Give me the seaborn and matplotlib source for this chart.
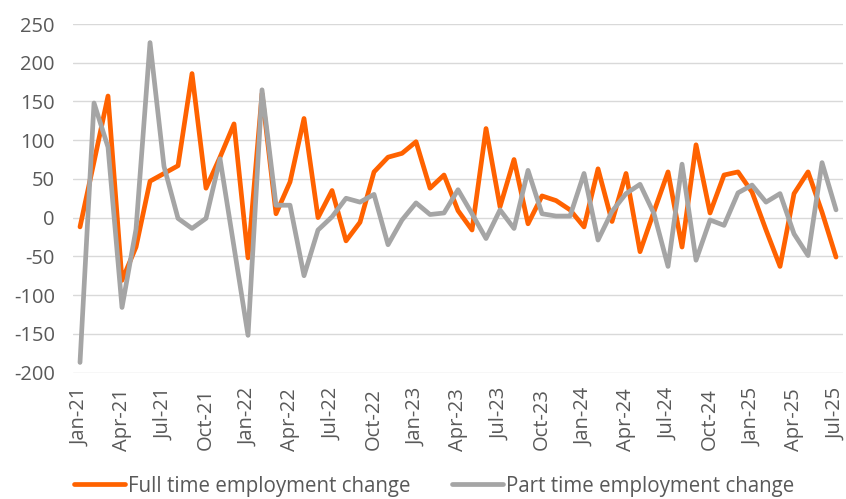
import matplotlib
matplotlib.use("Agg")
import matplotlib.pyplot as plt
import seaborn as sns
import pandas as pd
import numpy as np

months = ["Jan", "Feb", "Mar", "Apr", "May", "Jun", "Jul", "Aug", "Sep", "Oct", "Nov", "Dec"]
categories = [f"{m}-{y}" for y in range(21, 26) for m in months][:55]

full_time = [-12, 72, 157, -81, -38, 47, 57, 67, 186, 38, 78, 121,
             -52, 160, 5, 46, 128, 0, 35, -30, -6, 59, 78, 83,
             98, 38, 55, 9, -16, 115, 14, 75, -8, 28, 22, 10,
             -12, 63, -5, 57, -44, 8, 59, -38, 94, 6, 55, 59,
             33, -16, -63, 31, 59, 7, -51]
part_time = [-187, 148, 91, -116, -15, 226, 66, -1, -14, -1, 76, -38,
             -152, 165, 16, 16, -75, -16, 1, 25, 20, 30, -35, -3,
             19, 4, 6, 36, 5, -27, 10, -14, 61, 5, 2, 2,
             57, -29, 8, 31, 43, 5, -63, 69, -55, -3, -10, 32,
             42, 20, 31, -21, -49, 71, 10]

series_names = ["Full time employment change", "Part time employment change"]
tick_labels = categories[::3]
y_ticks = [-200, -150, -100, -50, 0, 50, 100, 150, 200, 250]

df = pd.DataFrame({
    "idx": list(range(len(categories))) * 2,
    "value": full_time + part_time,
    "series": [series_names[0]] * len(full_time) + [series_names[1]] * len(part_time),
})

sns.set_theme(style="white")
plt.rcParams["font.family"] = ["Open Sans", "DejaVu Sans"]

fig = plt.figure(figsize=(8.46, 4.99), dpi=100)
ax = fig.add_axes([0.0863, 0.2535, 0.9102, 0.6984])

palette = {series_names[0]: "#FF6200", series_names[1]: "#A5A5A5"}
sns.lineplot(data=df, x="idx", y="value", hue="series", palette=palette,
             linewidth=3.4, ax=ax, legend=True, sort=False)

ax.set_xlim(-0.5, len(categories) - 0.5)
ax.set_ylim(-200, 250)
ax.set_yticks(y_ticks)
ax.set_yticklabels([str(v) for v in y_ticks])
ax.set_xticks(list(range(0, len(categories), 3)))
ax.set_xticklabels(tick_labels, rotation=90)
ax.set_xlabel("")
ax.set_ylabel("")

ax.yaxis.grid(True, color="#D9D9D9", linewidth=1.0)
ax.xaxis.grid(False)
ax.set_axisbelow(True)
for s in ax.spines.values():
    s.set_visible(False)

ax.tick_params(axis="y", length=0, pad=13, labelsize=14.5, labelcolor="#595959")
ax.tick_params(axis="x", length=0, pad=11, labelsize=14.5, labelcolor="#595959")

handles, labels = ax.get_legend_handles_labels()
ax.legend_.remove()
fig.legend(handles, labels, loc="center", bbox_to_anchor=(0.513, 0.026), ncol=2,
           frameon=False, fontsize=14.8, labelcolor="#595959", handlelength=2.5,
           handletextpad=0.15, columnspacing=2.0)

fig.savefig("out.png", dpi=100)
